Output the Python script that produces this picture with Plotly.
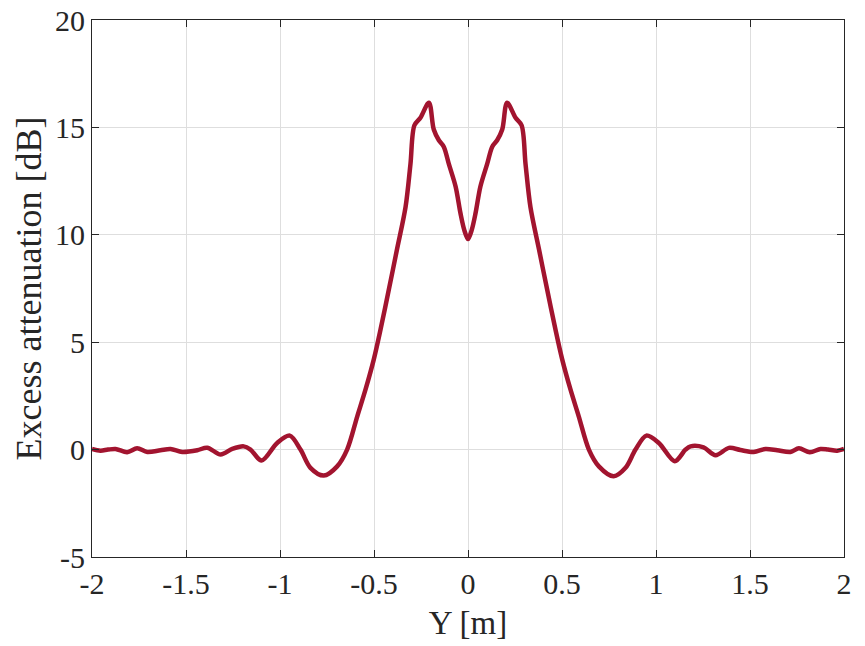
import plotly.graph_objects as go

# values (Y position in m, excess attenuation in dB)
y_pos = [
    -2.0, -1.955, -1.915, -1.875, -1.813, -1.76, -1.706, -1.636, -1.582, -1.52,
    -1.44, -1.387, -1.316, -1.254, -1.193, -1.157, -1.098, -1.015, -0.948, -0.891,
    -0.838, -0.767, -0.696, -0.643, -0.589, -0.545, -0.501, -0.465, -0.421, -0.377,
    -0.332, -0.306, -0.285, -0.253, -0.208, -0.182, -0.155, -0.129, -0.102, -0.066,
    -0.04, -0.02, 0.0,
    0.02, 0.04, 0.066, 0.102, 0.129, 0.155, 0.182, 0.208, 0.253, 0.285,
    0.306, 0.332, 0.377, 0.421, 0.465, 0.501, 0.545, 0.589, 0.643, 0.696,
    0.775, 0.838, 0.891, 0.949, 1.015, 1.1, 1.157, 1.184, 1.253, 1.317,
    1.388, 1.449, 1.52, 1.582, 1.645, 1.715, 1.76, 1.818, 1.875, 1.915,
    1.964, 2.0,
]
atten_db = [
    0.03, -0.05, 0.0, 0.03, -0.12, 0.06, -0.11, -0.03, 0.03, -0.11,
    -0.03, 0.09, -0.23, 0.03, 0.15, 0.0, -0.51, 0.31, 0.65, 0.0,
    -0.85, -1.21, -0.78, 0.0, 1.55, 2.8, 4.2, 5.6, 7.45, 9.35,
    11.3, 13.3, 15.1, 15.45, 16.15, 14.9, 14.4, 14.1, 13.3, 12.25,
    11.0, 10.23, 9.8,
    10.23, 11.0, 12.25, 13.3, 14.1, 14.4, 14.9, 16.15, 15.45, 15.1,
    13.3, 11.3, 9.35, 7.45, 5.6, 4.2, 2.8, 1.55, 0.0, -0.78,
    -1.24, -0.85, 0.0, 0.65, 0.31, -0.54, 0.0, 0.15, 0.1, -0.26,
    0.08, -0.02, -0.11, 0.03, -0.03, -0.11, 0.06, -0.12, 0.03, 0.0,
    -0.05, 0.03,
]

x_ticks = [-2, -1.5, -1, -0.5, 0, 0.5, 1, 1.5, 2]
x_labels = ['-2', '-1.5', '-1', '-0.5', '0', '0.5', '1', '1.5', '2']
y_ticks = [-5, 0, 5, 10, 15, 20]
y_labels = ['-5', '0', '5', '10', '15', '20']

font_family = 'Liberation Serif'
axis_color = '#262626'

fig = go.Figure()

fig.add_trace(
    go.Scatter(
        x=y_pos,
        y=atten_db,
        mode='lines',
        line=dict(color='#A2142F', width=4.5, shape='spline', smoothing=0.9),
        showlegend=False,
    ),
)

axis_common = dict(
    showline=True,
    linecolor=axis_color,
    linewidth=1,
    mirror='ticks',
    ticks='inside',
    ticklen=7,
    tickcolor=axis_color,
    showgrid=True,
    gridcolor='#DEDEDE',
    gridwidth=1,
    zeroline=False,
    automargin=False,
    ticklabeloverflow='allow',
    tickfont=dict(family=font_family, size=30, color=axis_color),
)

fig.update_layout(
    width=865,
    height=646,
    margin=dict(l=92, r=21, t=20, b=89),
    paper_bgcolor='white',
    plot_bgcolor='white',
    xaxis=dict(
        range=[-2, 2],
        tickvals=x_ticks,
        ticktext=x_labels,
        title=dict(text='Y [m]', font=dict(family=font_family, size=33, color=axis_color), standoff=11),
        **axis_common,
    ),
    yaxis=dict(
        range=[-5, 20],
        tickvals=y_ticks,
        ticktext=y_labels,
        title=dict(text='Excess attenuation [dB]', font=dict(family=font_family, size=36, color=axis_color), standoff=2),
        **axis_common,
    ),
)

# drop the page's default 8px body margin so the figure fills the window
fig.write_html(
    'out.html',
    config={'displayModeBar': False},
    post_script="document.body.style.margin = '0';",
)
